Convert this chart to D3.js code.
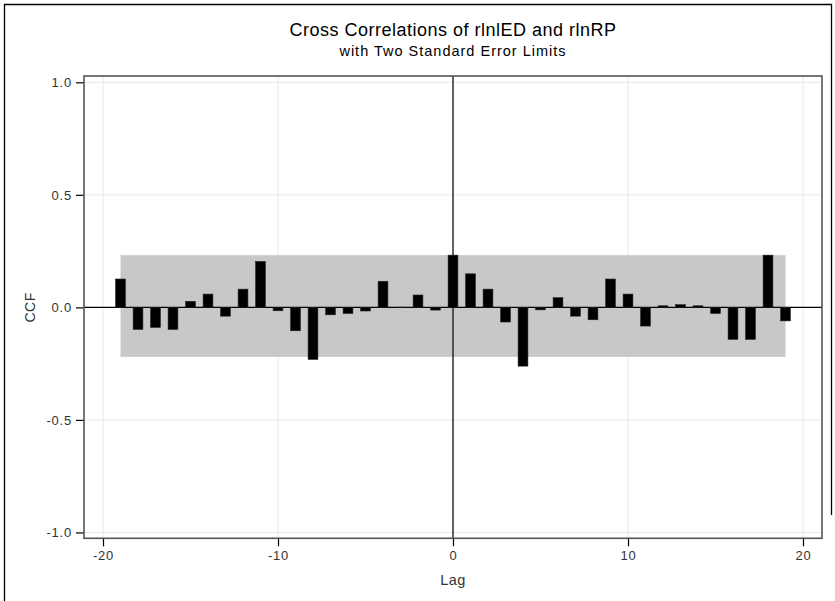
<!DOCTYPE html>
<html>
<head>
<meta charset="utf-8">
<script src="https://cdn.jsdelivr.net/npm/d3@7"></script>
<style>
  html, body { margin: 0; padding: 0; background: #fff; }
  svg { display: block; }
  text { font-family: "Liberation Sans", Arial, sans-serif; }
</style>
</head>
<body>
<svg id="chart" width="835" height="601"></svg>
<script>
// ---- data ----
const lags = [-19,-18,-17,-16,-15,-14,-13,-12,-11,-10,-9,-8,-7,-6,-5,-4,-3,-2,-1,0,1,2,3,4,5,6,7,8,9,10,11,12,13,14,15,16,17,18,19];
const ccf = [0.126,-0.098,-0.089,-0.098,0.027,0.059,-0.039,0.081,0.204,-0.015,-0.104,-0.231,-0.033,-0.027,-0.016,0.116,0.001,0.055,-0.012,0.232,
             0.149,0.081,-0.065,-0.261,-0.011,0.043,-0.039,-0.055,0.126,0.059,-0.083,0.007,0.012,0.007,-0.027,-0.142,-0.142,0.232,-0.060];
const upperLimit = 0.232;
const lowerLimit = -0.220;
const limitLags = [-19, 19];
const xTicks = [-20, -10, 0, 10, 20];
const yTicks = [-1.0, -0.5, 0.0, 0.5, 1.0];
const titleText = "Cross Correlations of rlnlED and rlnRP";
const subtitleText = "with Two Standard Error Limits";
const xLabel = "Lag";
const yLabel = "CCF";

// ---- layout ----
const svg = d3.select("#chart");
const pLeft = 84, pRight = 822, pTop = 76, pBottom = 538.3;

const x = d3.scaleLinear().domain([-21.086, 21.086]).range([pLeft, pRight]);
const y = d3.scaleLinear().domain([-1.026, 1.028]).range([pBottom, pTop]);

// outer border
svg.append("path")
  .attr("d", `M4.5,601 L4.5,4.5 L831.5,4.5 L831.5,515`)
  .attr("fill", "none").attr("stroke", "#000").attr("stroke-width", 1.3);

// titles
svg.append("text").attr("x", 453).attr("y", 36).attr("text-anchor", "middle")
  .attr("font-size", 18).attr("letter-spacing", 0.5).attr("fill", "#000").text(titleText);
svg.append("text").attr("x", 453).attr("y", 56).attr("text-anchor", "middle")
  .attr("font-size", 14.5).attr("letter-spacing", 1).attr("fill", "#000").text(subtitleText);

// grid
const grid = svg.append("g");
grid.selectAll("line.gx").data(xTicks).join("line")
  .attr("x1", d => x(d)).attr("x2", d => x(d)).attr("y1", pTop).attr("y2", pBottom)
  .attr("stroke", "#e9e9e9").attr("stroke-width", 1);
grid.selectAll("line.gy").data(yTicks).join("line")
  .attr("y1", d => y(d)).attr("y2", d => y(d)).attr("x1", pLeft).attr("x2", pRight)
  .attr("stroke", "#e9e9e9").attr("stroke-width", 1);

// standard error band
svg.append("rect")
  .attr("x", x(limitLags[0])).attr("width", x(limitLags[1]) - x(limitLags[0]))
  .attr("y", y(upperLimit)).attr("height", y(lowerLimit) - y(upperLimit))
  .attr("fill", "#c8c8c8");

// reference lines
svg.append("line").attr("x1", pLeft).attr("x2", pRight).attr("y1", y(0)).attr("y2", y(0))
  .attr("stroke", "#000").attr("stroke-width", 1.2);
svg.append("line").attr("x1", x(0)).attr("x2", x(0)).attr("y1", pTop).attr("y2", pBottom)
  .attr("stroke", "#000").attr("stroke-width", 1.2);

// bars
const halfW = 0.28;
svg.append("g").selectAll("rect").data(lags).join("rect")
  .attr("x", (d) => x(d - halfW))
  .attr("width", x(halfW) - x(-halfW))
  .attr("y", (d, i) => y(Math.max(0, ccf[i])))
  .attr("height", (d, i) => Math.abs(y(ccf[i]) - y(0)))
  .attr("fill", "#000").attr("stroke", "#222").attr("stroke-width", 0.6);

// axes
const xAxis = d3.axisBottom(x).tickValues(xTicks).tickFormat(d => String(d)).tickSize(8).tickPadding(4);
const gx = svg.append("g").attr("transform", `translate(0,${pBottom})`).call(xAxis);
gx.select(".domain").remove();
gx.selectAll(".tick line").attr("stroke", "#000").attr("stroke-width", 1.2);
gx.selectAll(".tick text").attr("font-size", 13).attr("letter-spacing", 0.8).attr("fill", "#333")
  .attr("font-family", "Liberation Sans, Arial, sans-serif");

const yAxis = d3.axisLeft(y).tickValues(yTicks).tickFormat(d => d.toFixed(1)).tickSize(8).tickPadding(4);
const gy = svg.append("g").attr("transform", `translate(${pLeft},0)`).call(yAxis);
gy.select(".domain").remove();
gy.selectAll(".tick line").attr("stroke", "#000").attr("stroke-width", 1.2);
gy.selectAll(".tick text").attr("font-size", 13).attr("letter-spacing", 0.8).attr("fill", "#333")
  .attr("font-family", "Liberation Sans, Arial, sans-serif");

// frame
svg.append("rect").attr("x", pLeft).attr("y", pTop).attr("width", pRight - pLeft).attr("height", pBottom - pTop)
  .attr("fill", "none").attr("stroke", "#555").attr("stroke-width", 1.6);

// axis labels
svg.append("text").attr("x", x(0)).attr("y", 585).attr("text-anchor", "middle")
  .attr("font-size", 14.5).attr("letter-spacing", 0.5).attr("fill", "#333").text(xLabel);
svg.append("text").attr("transform", `translate(35,${y(0)}) rotate(-90)`).attr("text-anchor", "middle")
  .attr("font-size", 14).attr("letter-spacing", 0.5).attr("fill", "#333").text(yLabel);
</script>
</body>
</html>
